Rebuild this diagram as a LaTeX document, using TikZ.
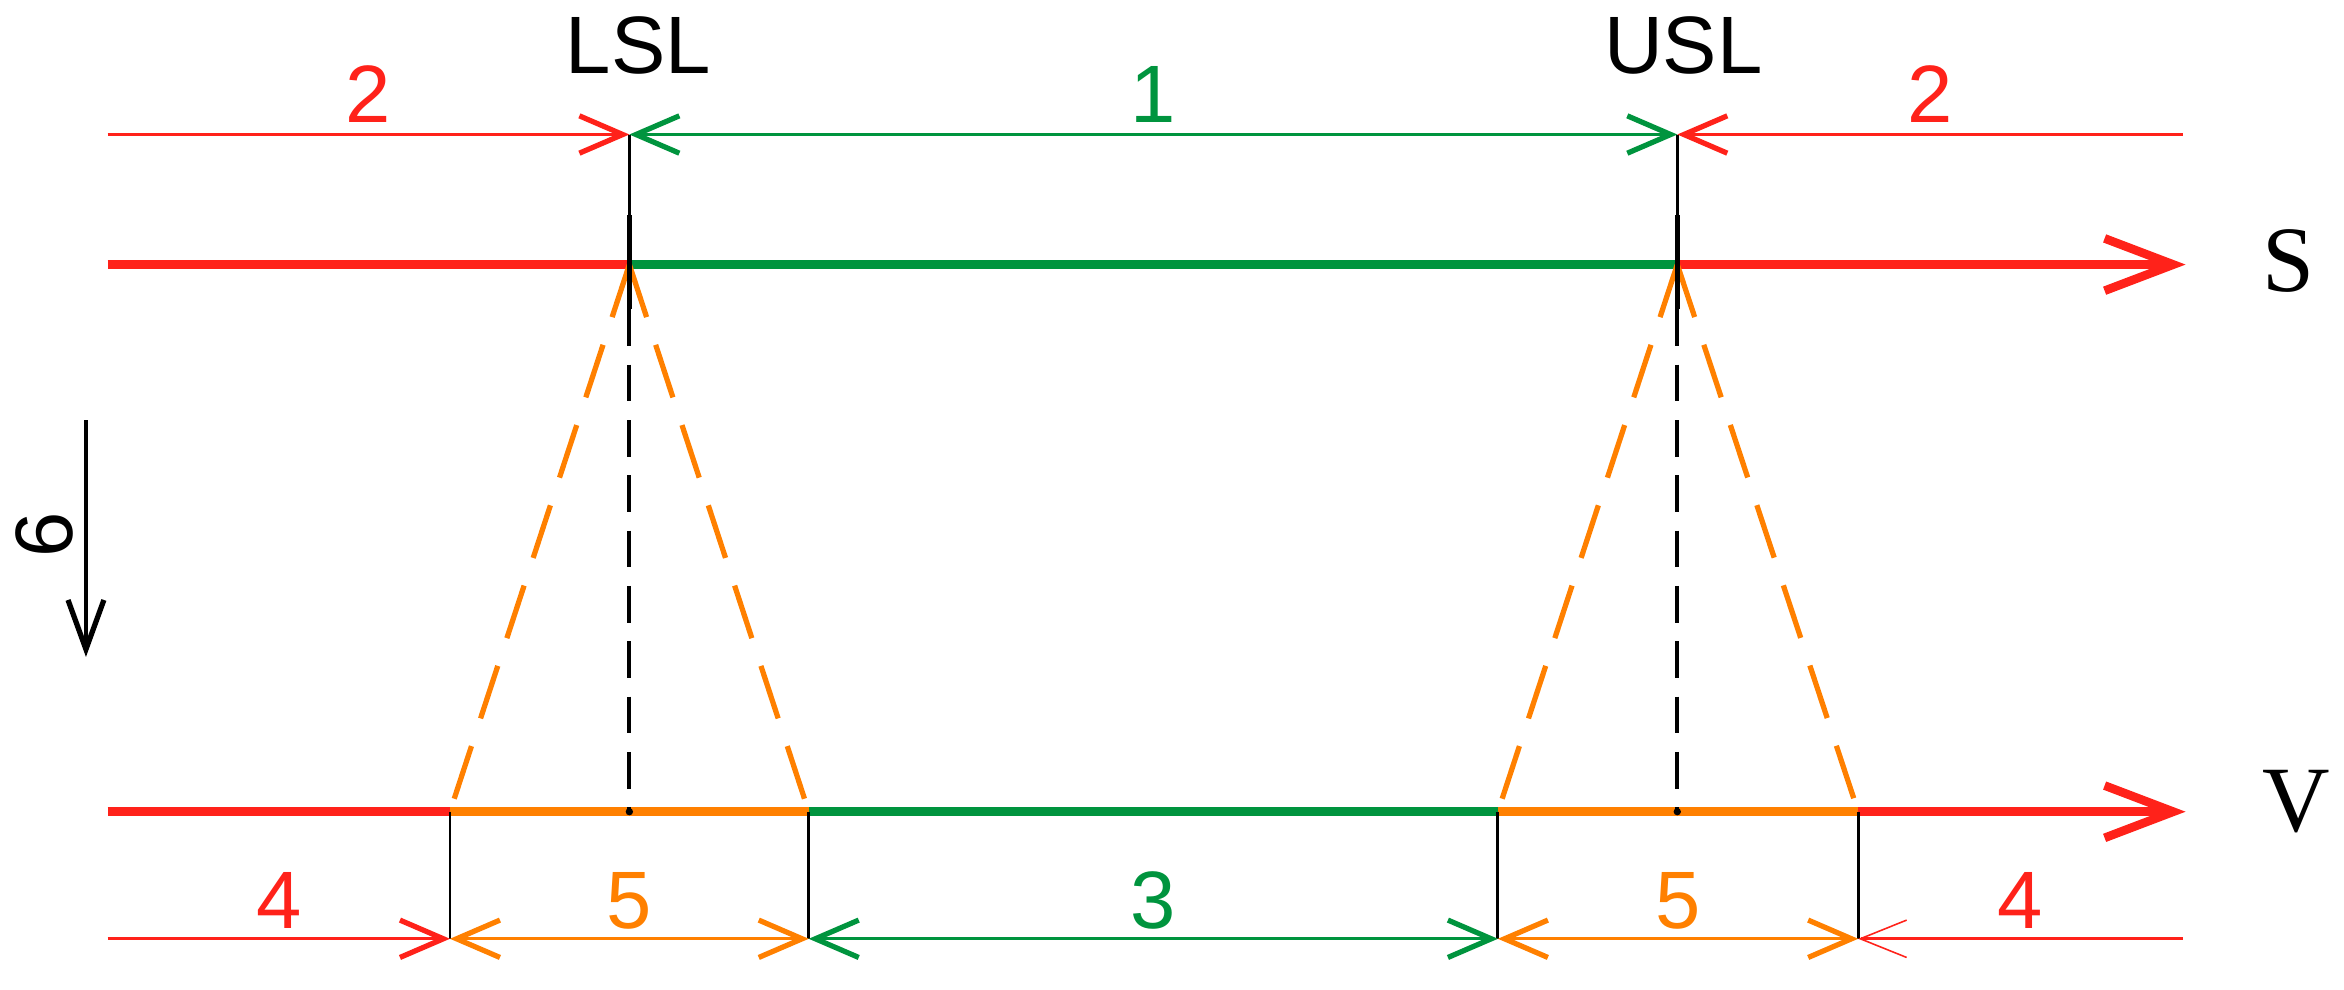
\documentclass[tikz,border=0pt]{standalone}
\usepackage{fontspec}
\setmainfont{Liberation Serif}
\setsansfont{Liberation Sans}
\usepackage{tkz-euclide}
\usetikzlibrary{arrows.meta,calc}
\definecolor{redS}{RGB}{255,34,26}
\definecolor{greenS}{RGB}{0,148,62}
\definecolor{orangeS}{RGB}{255,128,0}
\tikzset{>={Straight Barb[length=2.9mm,width=2.5mm,line width=1pt]}}
\tikzset{
  axis/.style={line width=1.65pt, line cap=butt, >={Straight Barb[length=4.6mm,width=3.5mm]}},
  dim/.style={line width=0.6pt, line cap=butt},
  tick/.style={black, line width=0.55pt, line cap=butt},
  num/.style={font=\sffamily\fontsize{15.5}{18}\selectfont, inner sep=0pt, anchor=base},
  var/.style={font=\fontsize{17.8}{20}\selectfont, inner sep=0pt}
}

\begin{document}
\begin{tikzpicture}
    \useasboundingbox (0,0) rectangle (15.68,6.62);
    \tkzDefPoints{0.72/5.72/Ta, 4.21/5.72/L1, 11.22/5.72/U1, 14.60/5.72/Tb}
    \tkzDefPoints{4.21/5.18/L4, 4.21/4.55/L5, 11.22/5.18/U4, 11.22/4.55/U5}
    \tkzDefPoints{0.72/4.85/Sa, 4.21/4.85/L2, 11.22/4.85/U2, 14.62/4.85/Sb}
    \tkzDefPoints{0.72/1.19/Va, 3.01/1.19/P1, 4.21/1.19/L3, 5.41/1.19/P2,
      10.02/1.19/P3, 11.22/1.19/U3, 12.43/1.19/P4, 14.62/1.19/Vb}
    \tkzDefPoints{0.72/0.34/Ba, 3.01/0.34/Q1, 5.41/0.34/Q2, 10.02/0.34/Q3,
      12.43/0.34/Q4, 14.60/0.34/Bb}
    \tkzDefPoints{0.575/3.81/Ka, 0.575/2.225/Kb}
    % axes S and V
    \tkzDrawSegments[axis, redS](Sa,L2 Va,P1)
    \tkzDrawSegments[axis, greenS](L2,U2 P2,P3)
    \tkzDrawSegments[axis, orangeS](P1,P2 P3,P4)
    \tkzDrawSegments[axis, redS, ->](U2,Sb P4,Vb)
    % projections
    \tkzDrawSegments[orangeS, line width=1pt, line cap=butt, dash pattern=on 3.7mm off 1.95mm](L2,P1 L2,P2 U2,P3 U2,P4)
    \tkzDrawSegments[tick, line width=0.8pt, dash pattern=on 2.45mm off 1.25mm](L5,L3 U5,U3)
    \tkzDrawSegments[tick, line width=1pt](L4,L5 U4,U5)
    \tkzDrawSegments[tick](L1,L2 U1,U2 P1,Q1 P2,Q2 P3,Q3 P4,Q4)
    \fill[black] (L3) circle (0.7pt) (U3) circle (0.7pt);
    % dimension lines
    \tkzDrawSegments[dim, redS, ->](Ta,L1 Tb,U1 Ba,Q1)
    \tkzDrawSegments[dim, greenS, <->](L1,U1 Q2,Q3)
    \tkzDrawSegments[dim, orangeS, <->](Q1,Q2 Q3,Q4)
    \tkzDrawSegments[dim, redS, ->, >={Straight Barb[length=3.1mm,width=2.5mm,line width=0.3pt]}](Bb,Q4)
    \tkzDrawSegments[tick, line width=0.6pt, ->,
      >={Straight Barb[length=3.3mm,width=2.4mm,line width=1pt]}](Ka,Kb)
    % labels
    \node (lsl) at (L1) [num, xshift=0.6mm, yshift=4.1mm] {LSL};
    \node (usl) at (U1) [num, xshift=0.4mm, yshift=4.1mm] {USL};
    \node (twoL) at ($(Ta)!0.5!(L1)$) [num, yshift=0.8mm, redS] {2};
    \node (one) at ($(L1)!0.5!(U1)$) [num, yshift=0.8mm, greenS] {1};
    \node (twoR) at ($(U1)!0.5!(Tb)$) [num, yshift=0.8mm, redS] {2};
    \node (fourL) at ($(Ba)!0.5!(Q1)$) [num, yshift=0.7mm, redS] {4};
    \node (fiveL) at ($(Q1)!0.5!(Q2)$) [num, yshift=0.7mm, orangeS] {5};
    \node (three) at ($(Q2)!0.5!(Q3)$) [num, yshift=0.7mm, greenS] {3};
    \node (fiveR) at ($(Q3)!0.5!(Q4)$) [num, yshift=0.7mm, orangeS] {5};
    \node (fourR) at ($(Q4)!0.5!(Bb)$) [num, yshift=0.7mm, redS] {4};
    \node (six) at (0.30,3.04) [num, anchor=center, rotate=90] {6};
    \node (s) at ($(Sb)+(0.69,0.025)$) [var] {S};
    \node (v) at ($(Vb)+(0.74,0.07)$) [var] {V};
\end{tikzpicture}
\end{document}
